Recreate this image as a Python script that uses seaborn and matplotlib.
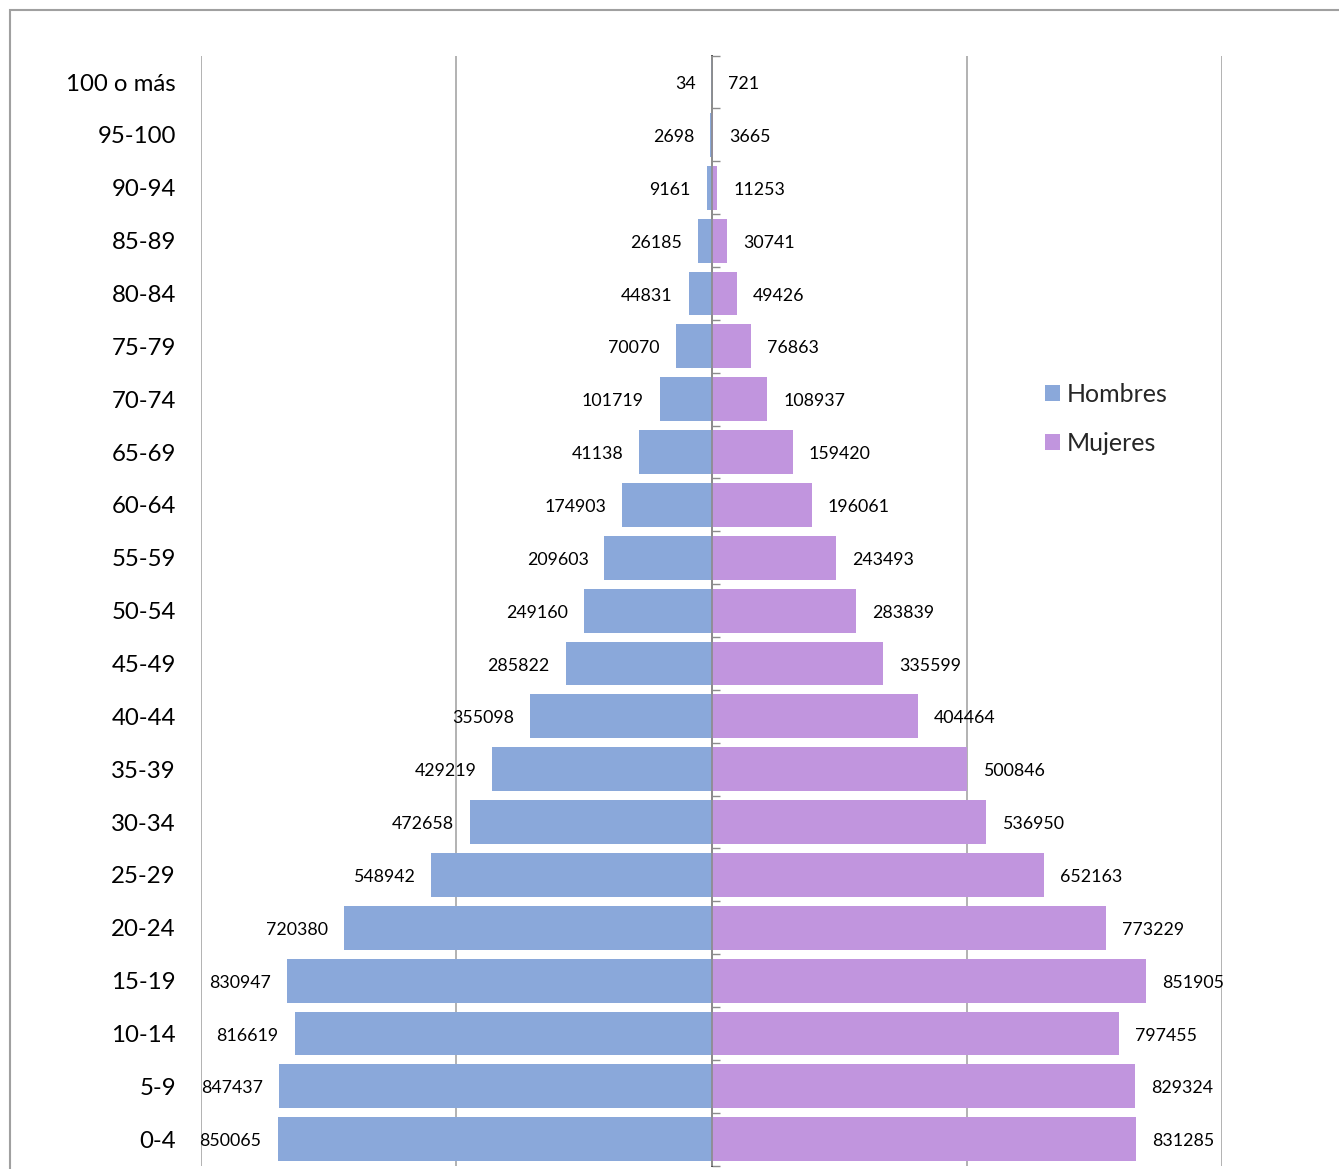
import matplotlib
matplotlib.use("Agg")
import matplotlib.pyplot as plt
import seaborn as sns
import pandas as pd
from matplotlib.patches import Rectangle

sns.set_theme(style="white")
plt.rcParams['font.family'] = ['Lato', 'DejaVu Sans']

edades = ["100 o más", "95-100", "90-94", "85-89", "80-84", "75-79", "70-74",
          "65-69", "60-64", "55-59", "50-54", "45-49", "40-44", "35-39",
          "30-34", "25-29", "20-24", "15-19", "10-14", "5-9", "0-4"]
hombres = [34, 2698, 9161, 26185, 44831, 70070, 101719, 141138, 174903, 209603,
           249160, 285822, 355098, 429219, 472658, 548942, 720380, 830947,
           816619, 847437, 850065]
# etiquetas tal como aparecen en el original
etiquetas_h = ["34", "2698", "9161", "26185", "44831", "70070", "101719", "41138",
               "174903", "209603", "249160", "285822", "355098", "429219",
               "472658", "548942", "720380", "830947", "816619", "847437", "850065"]
mujeres = [721, 3665, 11253, 30741, 49426, 76863, 108937, 159420, 196061, 243493,
           283839, 335599, 404464, 500846, 536950, 652163, 773229, 851905,
           797455, 829324, 831285]

col_h = "#8aa8da"
col_m = "#c195de"

df = pd.DataFrame({"edad": edades, "Hombres": [-v for v in hombres], "Mujeres": mujeres})

fig = plt.figure(figsize=(13.39, 11.69), dpi=100)
W, H = 1339, 1169
ax = fig.add_axes([201 / W, 1 - 1165.6 / H, (1222 - 201) / W, (1165.6 - 55.6) / H])

sns.barplot(data=df, x="Hombres", y="edad", orient="h", color=col_h, width=0.83,
            saturation=1, linewidth=0, ax=ax, label="Hombres", zorder=3)
sns.barplot(data=df, x="Mujeres", y="edad", orient="h", color=col_m, width=0.83,
            saturation=1, linewidth=0, ax=ax, label="Mujeres", zorder=3)

ax.set_xlim(-1000000, 1000000)
ax.set_ylim(len(edades) - 0.5, -0.5)
ax.set_xticks([-1000000, -500000, 0, 500000, 1000000])
ax.xaxis.grid(True, color="#a6a6a6", lw=1.2, zorder=0)
ax.yaxis.grid(False)
ax.tick_params(axis="x", length=0, labelbottom=False)
ax.tick_params(axis="y", length=0, pad=18, labelsize=17.3, labelcolor="black")
ax.set_xlabel("")
ax.set_ylabel("")
for s in ax.spines.values():
    s.set_visible(False)

# eje central con marcas entre categorías
ax.axvline(0, color="#8c8c8c", lw=1.2, zorder=5)
sec = ax.secondary_yaxis(0.5)
sec.set_yticks([i - 0.5 for i in range(len(edades) + 1)])
sec.set_yticklabels([])
sec.tick_params(axis="y", length=6, width=1, color="#8c8c8c", direction="out")
sec.spines["left"].set_visible(False)

for i, (vh, lh, vm) in enumerate(zip(hombres, etiquetas_h, mujeres)):
    ax.annotate(lh, (-vh, i), xytext=(-11.5, -1.5), textcoords="offset points",
                ha="right", va="center", fontsize=12.8, color="black", zorder=4)
    ax.annotate(str(vm), (vm, i), xytext=(11.5, -1.5), textcoords="offset points",
                ha="left", va="center", fontsize=12.8, color="black", zorder=4)

ax.legend(loc="center left", bbox_to_anchor=(1032 / W, 1 - 419 / H),
          bbox_transform=fig.transFigure, frameon=False, fontsize=18,
          handlelength=0.6, handleheight=0.6, handletextpad=0.3,
          labelspacing=1.05, borderpad=0)

fig.patches.append(Rectangle((10 / W, -0.1), 2, 1 - 10 / H + 0.1,
                             transform=fig.transFigure, fill=False,
                             edgecolor="#a0a0a0", lw=1.5))

fig.savefig("out.png", dpi=100)
